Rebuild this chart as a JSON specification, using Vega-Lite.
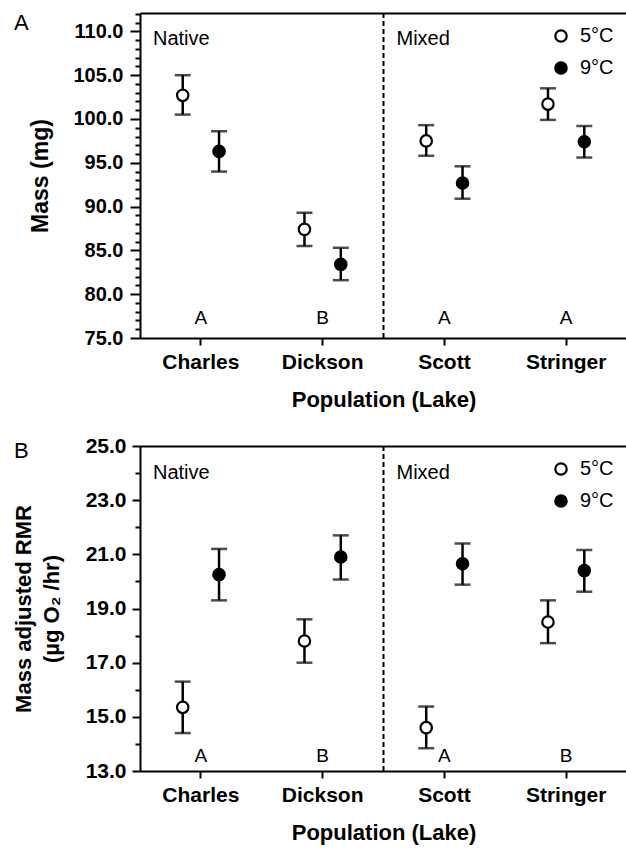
{
  "$schema": "https://vega.github.io/schema/vega-lite/v6.json",
  "background": "white",
  "padding": {"left": 12, "top": 3, "right": 0, "bottom": 5},
  "spacing": 25,
  "datasets": {
    "mass": [
      {"lake": "Charles", "temp": "5°C", "mean": 102.7, "lo": 100.5, "hi": 105.0},
      {"lake": "Charles", "temp": "9°C", "mean": 96.3, "lo": 94.0, "hi": 98.6},
      {"lake": "Dickson", "temp": "5°C", "mean": 87.4, "lo": 85.5, "hi": 89.3},
      {"lake": "Dickson", "temp": "9°C", "mean": 83.4, "lo": 81.6, "hi": 85.3},
      {"lake": "Scott", "temp": "5°C", "mean": 97.5, "lo": 95.8, "hi": 99.3},
      {"lake": "Scott", "temp": "9°C", "mean": 92.7, "lo": 90.9, "hi": 94.6},
      {"lake": "Stringer", "temp": "5°C", "mean": 101.7, "lo": 99.9, "hi": 103.5},
      {"lake": "Stringer", "temp": "9°C", "mean": 97.4, "lo": 95.6, "hi": 99.2}
    ],
    "rmr": [
      {"lake": "Charles", "temp": "5°C", "mean": 15.35, "lo": 14.4, "hi": 16.3},
      {"lake": "Charles", "temp": "9°C", "mean": 20.25, "lo": 19.3, "hi": 21.2},
      {"lake": "Dickson", "temp": "5°C", "mean": 17.8, "lo": 17.0, "hi": 18.6},
      {"lake": "Dickson", "temp": "9°C", "mean": 20.9, "lo": 20.07, "hi": 21.7},
      {"lake": "Scott", "temp": "5°C", "mean": 14.6, "lo": 13.84, "hi": 15.38},
      {"lake": "Scott", "temp": "9°C", "mean": 20.65, "lo": 19.88, "hi": 21.4},
      {"lake": "Stringer", "temp": "5°C", "mean": 18.5, "lo": 17.72, "hi": 19.3},
      {"lake": "Stringer", "temp": "9°C", "mean": 20.4, "lo": 19.62, "hi": 21.16}
    ],
    "massLetters": [
      {"lake": "Charles", "letter": "A"},
      {"lake": "Dickson", "letter": "B"},
      {"lake": "Scott", "letter": "A"},
      {"lake": "Stringer", "letter": "A"}
    ],
    "rmrLetters": [
      {"lake": "Charles", "letter": "A"},
      {"lake": "Dickson", "letter": "B"},
      {"lake": "Scott", "letter": "A"},
      {"lake": "Stringer", "letter": "B"}
    ],
    "groups": [
      {"lake": "Charles", "group": "Native"},
      {"lake": "Scott", "group": "Mixed"}
    ],
    "divider": [{"lake": "Scott"}],
    "panelA": [{"lake": "Charles", "panel": "A"}],
    "panelB": [{"lake": "Charles", "panel": "B"}]
  },
  "vconcat": [
    {
      "width": 487,
      "height": 325,
      "resolve": {"axis": {"x": "independent"}},
      "layer": [
        {
          "data": {"name": "mass"},
          "mark": {"type": "rule", "strokeWidth": 2.5, "color": "black"},
          "encoding": {
            "x": {"field": "lake", "type": "nominal", "sort": ["Charles", "Dickson", "Scott", "Stringer"], "scale": {"paddingInner": 0, "paddingOuter": 0},
                  "axis": {"orient": "bottom", "title": "Population (Lake)", "labelAngle": 0, "tickSize": 7, "labelPadding": 6, "labelFontSize": 21, "titleFontSize": 22, "titlePadding": 17}},
            "xOffset": {"field": "temp", "type": "nominal", "sort": ["5°C", "9°C"], "scale": {"paddingInner": 0, "paddingOuter": 0.676}},
            "y": {"field": "lo", "type": "quantitative", "title": "Mass (mg)", "scale": {"domain": [75, 112.1], "nice": false, "zero": false},
                  "axis": {"values": [75,76,77,78,79,80,81,82,83,84,85,86,87,88,89,90,91,92,93,94,95,96,97,98,99,100,101,102,103,104,105,106,107,108,109,110,111,112],
                           "tickCount": 100,
                           "labelExpr": "datum.value % 5 === 0 ? format(datum.value, '.1f') : ''",
                           "tickSize": {"condition": {"test": "datum.value % 5 === 0", "value": 10}, "value": 5},
                           "labelOverlap": false, "labelFlush": false, "labelPadding": 7, "labelFontSize": 20, "titleFontSize": 23, "titlePadding": 20}},
            "y2": {"field": "hi"}
          }
        },
        {
          "data": {"name": "mass"},
          "mark": {"type": "tick", "orient": "horizontal", "size": 16, "thickness": 2.5, "color": "black"},
          "encoding": {
            "x": {"field": "lake", "type": "nominal", "axis": null, "sort": ["Charles", "Dickson", "Scott", "Stringer"]},
            "xOffset": {"field": "temp", "type": "nominal", "sort": ["5°C", "9°C"]},
            "y": {"field": "lo", "type": "quantitative", "title": "Mass (mg)"}
          }
        },
        {
          "data": {"name": "mass"},
          "mark": {"type": "tick", "orient": "horizontal", "size": 16, "thickness": 2.5, "color": "black"},
          "encoding": {
            "x": {"field": "lake", "type": "nominal", "axis": null, "sort": ["Charles", "Dickson", "Scott", "Stringer"]},
            "xOffset": {"field": "temp", "type": "nominal", "sort": ["5°C", "9°C"]},
            "y": {"field": "hi", "type": "quantitative", "title": "Mass (mg)"}
          }
        },
        {
          "data": {"name": "mass"},
          "mark": {"type": "point", "shape": "circle", "filled": true, "size": 130, "stroke": "black", "strokeWidth": 2.2, "opacity": 1},
          "encoding": {
            "x": {"field": "lake", "type": "nominal", "sort": ["Charles", "Dickson", "Scott", "Stringer"], "axis": null},
            "xOffset": {"field": "temp", "type": "nominal", "sort": ["5°C", "9°C"]},
            "y": {"field": "mean", "type": "quantitative", "title": "Mass (mg)"},
            "fill": {"field": "temp", "type": "nominal", "scale": {"domain": ["5°C", "9°C"], "range": ["white", "black"]},
                     "legend": {"title": null, "orient": "top-right", "offset": 13, "padding": 0, "labelFontSize": 20, "labelFont": "Liberation Sans", "labelColor": "black", "symbolSize": 130, "symbolStrokeWidth": 2.2, "symbolStrokeColor": "black", "symbolType": "circle", "rowPadding": 10, "labelOffset": 9}}
          }
        },
        {
          "data": {"name": "massLetters"},
          "mark": {"type": "text", "fontSize": 19, "font": "Liberation Sans", "baseline": "alphabetic", "align": "center", "color": "black"},
          "encoding": {
            "x": {"field": "lake", "type": "nominal", "sort": ["Charles", "Dickson", "Scott", "Stringer"],
                  "axis": {"orient": "top", "labels": false, "ticks": false, "title": null, "domain": true}},
            "y": {"datum": 76.6, "type": "quantitative", "title": "Mass (mg)"},
            "text": {"field": "letter"}
          }
        },
        {
          "data": {"name": "groups"},
          "mark": {"type": "text", "fontSize": 20, "font": "Liberation Sans", "baseline": "alphabetic", "align": "left", "dx": 13, "color": "black"},
          "encoding": {
            "x": {"field": "lake", "type": "nominal", "bandPosition": 0, "axis": null, "sort": ["Charles", "Dickson", "Scott", "Stringer"]},
            "y": {"datum": 108.4, "type": "quantitative", "title": "Mass (mg)"},
            "text": {"field": "group"}
          }
        },
        {
          "data": {"name": "panelA"},
          "mark": {"type": "text", "fontSize": 22, "font": "Liberation Sans", "baseline": "alphabetic", "align": "left", "dx": -126, "color": "black"},
          "encoding": {
            "x": {"field": "lake", "type": "nominal", "bandPosition": 0, "axis": null, "sort": ["Charles", "Dickson", "Scott", "Stringer"]},
            "y": {"datum": 110.2, "type": "quantitative", "title": "Mass (mg)"},
            "text": {"field": "panel"}
          }
        },
        {
          "data": {"name": "divider"},
          "mark": {"type": "rule", "strokeDash": [5, 3], "strokeWidth": 2, "color": "black"},
          "encoding": {
            "x": {"field": "lake", "type": "nominal", "bandPosition": 0, "axis": null, "sort": ["Charles", "Dickson", "Scott", "Stringer"]}
          }
        }
      ]
    },
    {
      "width": 487,
      "height": 325,
      "resolve": {"axis": {"x": "independent"}},
      "layer": [
        {
          "data": {"name": "rmr"},
          "mark": {"type": "rule", "strokeWidth": 2.5, "color": "black"},
          "encoding": {
            "x": {"field": "lake", "type": "nominal", "sort": ["Charles", "Dickson", "Scott", "Stringer"], "scale": {"paddingInner": 0, "paddingOuter": 0},
                  "axis": {"orient": "bottom", "title": "Population (Lake)", "labelAngle": 0, "tickSize": 7, "labelPadding": 6, "labelFontSize": 21, "titleFontSize": 22, "titlePadding": 17}},
            "xOffset": {"field": "temp", "type": "nominal", "sort": ["5°C", "9°C"], "scale": {"paddingInner": 0, "paddingOuter": 0.676}},
            "y": {"field": "lo", "type": "quantitative", "title": ["Mass adjusted RMR", "(µg O₂ /hr)"], "scale": {"domain": [13, 25], "nice": false, "zero": false},
                  "axis": {"values": [13,14,15,16,17,18,19,20,21,22,23,24,25],
                           "tickCount": 100,
                           "labelExpr": "datum.value % 2 === 1 ? format(datum.value, '.1f') : ''",
                           "tickSize": {"condition": {"test": "datum.value % 2 === 1", "value": 8}, "value": 5},
                           "labelOverlap": false, "labelFlush": false, "labelPadding": 6, "labelFontSize": 21, "titleFontSize": 22, "titleLineHeight": 28, "titlePadding": 22}},
            "y2": {"field": "hi"}
          }
        },
        {
          "data": {"name": "rmr"},
          "mark": {"type": "tick", "orient": "horizontal", "size": 16, "thickness": 2.5, "color": "black"},
          "encoding": {
            "x": {"field": "lake", "type": "nominal", "axis": null, "sort": ["Charles", "Dickson", "Scott", "Stringer"]},
            "xOffset": {"field": "temp", "type": "nominal", "sort": ["5°C", "9°C"]},
            "y": {"field": "lo", "type": "quantitative", "title": ["Mass adjusted RMR", "(µg O₂ /hr)"]}
          }
        },
        {
          "data": {"name": "rmr"},
          "mark": {"type": "tick", "orient": "horizontal", "size": 16, "thickness": 2.5, "color": "black"},
          "encoding": {
            "x": {"field": "lake", "type": "nominal", "axis": null, "sort": ["Charles", "Dickson", "Scott", "Stringer"]},
            "xOffset": {"field": "temp", "type": "nominal", "sort": ["5°C", "9°C"]},
            "y": {"field": "hi", "type": "quantitative", "title": ["Mass adjusted RMR", "(µg O₂ /hr)"]}
          }
        },
        {
          "data": {"name": "rmr"},
          "mark": {"type": "point", "shape": "circle", "filled": true, "size": 130, "stroke": "black", "strokeWidth": 2.2, "opacity": 1},
          "encoding": {
            "x": {"field": "lake", "type": "nominal", "sort": ["Charles", "Dickson", "Scott", "Stringer"], "axis": null},
            "xOffset": {"field": "temp", "type": "nominal", "sort": ["5°C", "9°C"]},
            "y": {"field": "mean", "type": "quantitative", "title": ["Mass adjusted RMR", "(µg O₂ /hr)"]},
            "fill": {"field": "temp", "type": "nominal", "scale": {"domain": ["5°C", "9°C"], "range": ["white", "black"]},
                     "legend": {"title": null, "orient": "top-right", "offset": 13, "padding": 0, "labelFontSize": 20, "labelFont": "Liberation Sans", "labelColor": "black", "symbolSize": 130, "symbolStrokeWidth": 2.2, "symbolStrokeColor": "black", "symbolType": "circle", "rowPadding": 10, "labelOffset": 9}}
          }
        },
        {
          "data": {"name": "rmrLetters"},
          "mark": {"type": "text", "fontSize": 19, "font": "Liberation Sans", "baseline": "alphabetic", "align": "center", "color": "black"},
          "encoding": {
            "x": {"field": "lake", "type": "nominal", "sort": ["Charles", "Dickson", "Scott", "Stringer"],
                  "axis": {"orient": "top", "labels": false, "ticks": false, "title": null, "domain": true}},
            "y": {"datum": 13.33, "type": "quantitative", "title": ["Mass adjusted RMR", "(µg O₂ /hr)"]},
            "text": {"field": "letter"}
          }
        },
        {
          "data": {"name": "groups"},
          "mark": {"type": "text", "fontSize": 20, "font": "Liberation Sans", "baseline": "alphabetic", "align": "left", "dx": 13, "color": "black"},
          "encoding": {
            "x": {"field": "lake", "type": "nominal", "bandPosition": 0, "axis": null, "sort": ["Charles", "Dickson", "Scott", "Stringer"]},
            "y": {"datum": 23.79, "type": "quantitative", "title": ["Mass adjusted RMR", "(µg O₂ /hr)"]},
            "text": {"field": "group"}
          }
        },
        {
          "data": {"name": "panelB"},
          "mark": {"type": "text", "fontSize": 22, "font": "Liberation Sans", "baseline": "alphabetic", "align": "left", "dx": -126, "color": "black"},
          "encoding": {
            "x": {"field": "lake", "type": "nominal", "bandPosition": 0, "axis": null, "sort": ["Charles", "Dickson", "Scott", "Stringer"]},
            "y": {"datum": 24.56, "type": "quantitative", "title": ["Mass adjusted RMR", "(µg O₂ /hr)"]},
            "text": {"field": "panel"}
          }
        },
        {
          "data": {"name": "divider"},
          "mark": {"type": "rule", "strokeDash": [5, 3], "strokeWidth": 2, "color": "black"},
          "encoding": {
            "x": {"field": "lake", "type": "nominal", "bandPosition": 0, "axis": null, "sort": ["Charles", "Dickson", "Scott", "Stringer"]}
          }
        }
      ]
    }
  ],
  "resolve": {"scale": {"fill": "independent"}, "legend": {"fill": "independent"}},
  "config": {
    "font": "Liberation Sans",
    "view": {"stroke": null},
    "axis": {"domainColor": "black", "domainWidth": 2, "tickColor": "black", "tickWidth": 2, "labelColor": "black", "titleColor": "black", "labelFont": "Liberation Sans", "titleFont": "Liberation Sans", "labelFontWeight": "bold", "titleFontWeight": "bold", "grid": false}
  }
}
